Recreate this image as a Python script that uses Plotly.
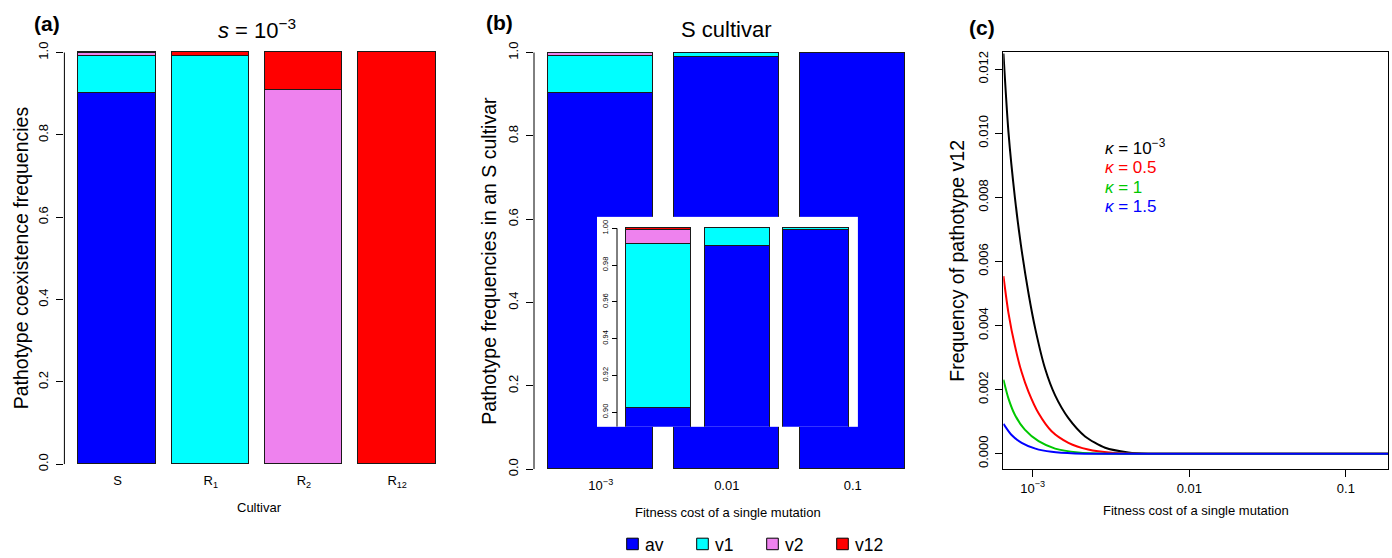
import plotly.graph_objects as go

W, H = 1392, 558
def px(x): return x / W
def py(y): return 1 - y / H

FONT = "Liberation Sans, Arial, Helvetica, sans-serif"

# ---------------- data ----------------
pathotypes = ["av", "v1", "v2", "v12"]
colors = ["#0000FF", "#00FFFF", "#EE82EE", "#FF0000"]

# panel (a): coexistence frequencies per cultivar, s = 1e-3
cultivars = ["S", "R<sub>1</sub>", "R<sub>2</sub>", "R<sub>12</sub>"]
a_av = [0.9023, 0.0, 0.0, 0.0]
a_v1 = [0.0895, 0.9905, 0.0, 0.0]
a_v2 = [0.0075, 0.0, 0.909, 0.0]
a_v12 = [0.0007, 0.0095, 0.091, 1.0]

# panel (b): S cultivar, by fitness cost
costs = ["10<sup>−3</sup>", "0.01", "0.1"]
b_av = [0.9023, 0.9902, 0.9991]
b_v1 = [0.0895, 0.0098, 0.0009]
b_v2 = [0.0075, 0.0, 0.0]
b_v12 = [0.0007, 0.0, 0.0]

# panel (c): frequency of v12 vs fitness cost for several kappa
kappa_labels = ["<i>κ</i> = 10<sup>−3</sup>", "<i>κ</i> = 0.5", "<i>κ</i> = 1", "<i>κ</i> = 1.5"]
kappa_colors = ["#000000", "#FF0000", "#00C800", "#0000FF"]
s_k1 = [0.00065, 0.00070, 0.00077, 0.00084, 0.00094, 0.00104, 0.00120, 0.00139,
        0.00169, 0.00216, 0.00290, 0.00408, 0.00545, 0.01, 0.05, 0.19]
f_k1 = [0.01249, 0.01003, 0.00798, 0.00652, 0.00500, 0.00388, 0.00265, 0.00182,
        0.00111, 0.00054, 0.000185, 0.00004, 0.0, 0.0, 0.0, 0.0]
s_k2 = [0.00065, 0.00070, 0.00077, 0.00085, 0.00094, 0.00109, 0.00132, 0.00169,
        0.00226, 0.00319, 0.005, 0.01, 0.05, 0.19]
f_k2 = [0.00554, 0.00439, 0.00336, 0.00254, 0.00193, 0.00126, 0.00070, 0.00034,
        0.00013, 0.00003, 0.0, 0.0, 0.0, 0.0]
s_k3 = [0.00065, 0.00070, 0.00077, 0.00089, 0.00109, 0.00139, 0.00195, 0.003,
        0.01, 0.05, 0.19]
f_k3 = [0.00231, 0.00172, 0.00121, 0.00075, 0.00039, 0.00016, 0.00004, 0.0,
        0.0, 0.0, 0.0]
s_k4 = [0.00065, 0.00073, 0.00085, 0.00104, 0.00132, 0.00186, 0.003, 0.01, 0.05, 0.19]
f_k4 = [0.00093, 0.00059, 0.00034, 0.00016, 0.00006, 0.00001, 0.0, 0.0, 0.0, 0.0]

y_ticks = [0, 0.2, 0.4, 0.6, 0.8, 1.0]
y_ticktext = ["0.0", "0.2", "0.4", "0.6", "0.8", "1.0"]
inset_ticks = [0.90, 0.92, 0.94, 0.96, 0.98, 1.00]
inset_ticktext = ["0.90", "0.92", "0.94", "0.96", "0.98", "1.00"]
c_yticks = [0, 0.002, 0.004, 0.006, 0.008, 0.010, 0.012]
c_yticktext = ["0.000", "0.002", "0.004", "0.006", "0.008", "0.010", "0.012"]
c_xticks = [0.001, 0.01, 0.1]
c_xticktext = ["10<sup>−3</sup>", "0.01", "0.1"]

# barplot-style positions (width 1, space 0.2)
pos_a = [0.7 + 1.2 * i for i in range(len(cultivars))]
pos_b = [0.7 + 1.2 * i for i in range(len(costs))]

fig = go.Figure()
edge = dict(color="#1a1a1a", width=1)

a_series = [a_av, a_v1, a_v2, a_v12]
b_series = [b_av, b_v1, b_v2, b_v12]
for name, col, vals in zip(pathotypes, colors, a_series):
    fig.add_trace(go.Bar(x=pos_a, y=vals, width=1, name=name, marker=dict(color=col, line=edge),
                         xaxis="x", yaxis="y", showlegend=False))
for name, col, vals in zip(pathotypes, colors, b_series):
    fig.add_trace(go.Bar(x=pos_b, y=vals, width=1, name=name, marker=dict(color=col, line=edge),
                         xaxis="x2", yaxis="y2", showlegend=False))
curves = [(s_k1, f_k1), (s_k2, f_k2), (s_k3, f_k3), (s_k4, f_k4)]
for lab, col, (sx, fy) in zip(kappa_labels, kappa_colors, curves):
    fig.add_trace(go.Scatter(x=sx, y=fy, mode="lines", name=lab,
                             line=dict(color=col, width=2, shape="spline", smoothing=0.7),
                             xaxis="x3", yaxis="y3", showlegend=False))
for name, col, vals in zip(pathotypes, colors, b_series):
    fig.add_trace(go.Bar(x=pos_b, y=vals, width=1, name=name, marker=dict(color=col, line=edge),
                         xaxis="x4", yaxis="y4", showlegend=False))

tickfont = dict(family=FONT, size=13, color="black")
common = dict(showgrid=False, zeroline=False, tickcolor="black", tickwidth=1, tickfont=tickfont)

fig.update_layout(
    width=W, height=H, margin=dict(l=0, r=0, t=0, b=0),
    paper_bgcolor="white", plot_bgcolor="white",
    barmode="stack", bargap=0,
    font=dict(family=FONT, color="black"),
    # panel a
    xaxis=dict(domain=[px(64.4), px(450.3)], range=[0.016, 4.984], anchor="y",
               tickvals=pos_a, ticktext=cultivars, ticks="", showline=False,
               ticklabelstandoff=7, **common),
    yaxis=dict(domain=[py(470), py(35.6)], range=[0, 1.04], anchor="x",
               tickvals=y_ticks, ticktext=y_ticktext, tickangle=-90,
               ticks="outside", ticklen=7, showline=False, ticklabelstandoff=3, **common),
    # panel b
    xaxis2=dict(domain=[px(534), px(919.6)], range=[0.064, 3.736], anchor="y2",
                tickvals=pos_b, ticktext=costs, ticks="", showline=False,
                ticklabelstandoff=7, **common),
    yaxis2=dict(domain=[py(475), py(35.4)], range=[0, 1.04], anchor="x2",
                tickvals=y_ticks, ticktext=y_ticktext, tickangle=-90,
                ticks="outside", ticklen=7, showline=False, ticklabelstandoff=3, **common),
    # panel c
    xaxis3=dict(domain=[px(1003.3), px(1388.3)], type="log", range=[-3.188, -0.729], anchor="y3",
                tickvals=c_xticks, ticktext=c_xticktext, ticks="outside", ticklen=7,
                showline=True, mirror=True, linecolor="black", linewidth=1, **common),
    yaxis3=dict(domain=[py(475), py(52)], range=[-0.000483, 0.01253], anchor="x3",
                tickvals=c_yticks, ticktext=c_yticktext, tickangle=-90,
                ticks="outside", ticklen=7, showline=True, mirror=True,
                linecolor="black", linewidth=1, ticklabelstandoff=2, **common),
    # inset in panel b
    xaxis4=dict(domain=[px(597), px(857.9)], range=[-0.237, 3.736], anchor="y4",
                visible=False, showgrid=False, zeroline=False),
    yaxis4=dict(domain=[py(432), py(219)], range=[0.892, 1.00625], anchor="free",
                position=px(617), tickvals=inset_ticks, ticktext=inset_ticktext,
                tickangle=-90, ticks="outside", ticklen=5, showline=False,
                showgrid=False, zeroline=False, tickcolor="black",
                tickfont=dict(family=FONT, size=7.5, color="black"), ticklabelstandoff=1),
)

shapes = [
    dict(type="line", xref="x domain", yref="y", x0=0, x1=0, y0=0, y1=1, line=dict(color="black", width=1)),
    dict(type="line", xref="x2 domain", yref="y2", x0=0, x1=0, y0=0, y1=1, line=dict(color="black", width=1)),
    dict(type="line", xref="paper", yref="y4", x0=px(617), x1=px(617), y0=0.892, y1=1.0,
         line=dict(color="black", width=1)),
]
# custom legend boxes
leg_x = [626.7, 696.7, 766.7, 836.7]
for x0, col in zip(leg_x, colors):
    shapes.append(dict(type="rect", xref="paper", yref="paper", x0=px(x0), x1=px(x0 + 11.6),
                       y0=py(556.7), y1=py(545), fillcolor=col, line=dict(color="black", width=1)))
fig.update_layout(shapes=shapes)

def ann(text, x, y, size, xanchor="center", angle=0, color="black", bold=False):
    t = f"<b>{text}</b>" if bold else text
    return dict(text=t, x=px(x), y=py(y), xref="paper", yref="paper", showarrow=False,
                xanchor=xanchor, yanchor="middle", textangle=angle,
                font=dict(family=FONT, size=size, color=color))

anns = [
    ann("(a)", 47, 23, 21, bold=True),
    ann("(b)", 500, 22, 21, bold=True),
    ann("(c)", 982, 27, 21, bold=True),
    ann("<i>s</i> = 10<sup>−3</sup>", 257, 28, 22),
    ann("S cultivar", 726, 29, 22),
    ann("Cultivar", 259.3, 514, 13),
    ann("Fitness cost of a single mutation", 727.5, 519, 13),
    ann("Fitness cost of a single mutation", 1195.5, 517.3, 13),
    ann("Pathotype coexistence frequencies", 21, 261, 19.5, angle=-90),
    ann("Pathotype frequencies in an S cultivar", 489, 263.6, 19.5, angle=-90),
    ann("Frequency of pathotype v12", 957, 263.5, 19.5, angle=-90),
]
for lab, col, yy in zip(kappa_labels, kappa_colors, [148.6, 168.6, 189, 208.6]):
    anns.append(ann(lab, 1103.3, yy, 17, xanchor="left", color=col))
for lab, xx in zip(pathotypes, [643.3, 713.3, 783.3, 853.3]):
    anns.append(ann(lab, xx, 552, 17.5, xanchor="left"))
fig.update_layout(annotations=anns)

fig.write_html("out.html")
